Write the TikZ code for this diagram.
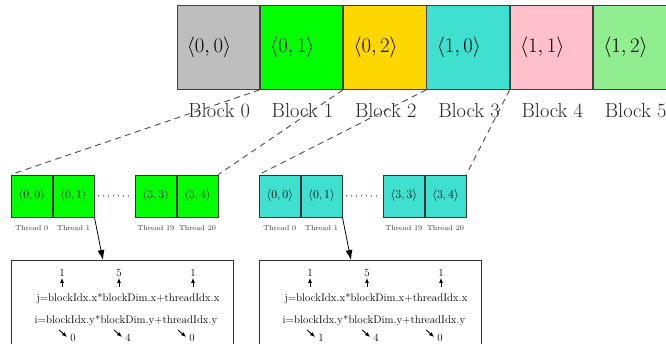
\documentclass[tikz,border=0pt]{standalone}
\usetikzlibrary{arrows.meta,calc}
\definecolor{cgray}{HTML}{BEBEBE}
\definecolor{cgreen}{HTML}{00FF00}
\definecolor{cgold}{HTML}{FFD700}
\definecolor{cturq}{HTML}{40E0D0}
\definecolor{cpink}{HTML}{FFC0CB}
\definecolor{clgreen}{HTML}{90EE90}
\begin{document}
\begin{tikzpicture}[x=1pt,y=-1pt,
  blk/.style={draw=black!75, line width=0.8pt, anchor=north west, text width=62.5pt,
    inner xsep=10pt, inner ysep=0pt, minimum height=84pt, align=left,
    font=\fontsize{20.4}{24}\selectfont},
  blbl/.style={font=\fontsize{20.4}{24}\selectfont, text=black!85, inner sep=0pt},
  thr/.style={draw=black!80, line width=0.7pt, anchor=north west, minimum width=41pt,
    minimum height=42pt, inner sep=0pt, font=\fontsize{11.5}{13}\selectfont},
  tlbl/.style={font=\fontsize{7.2}{8}\selectfont, text=black!80, inner sep=0pt},
  outbox/.style={draw=black!80, line width=0.7pt, anchor=north west, minimum width=222pt,
    minimum height=100pt, inner sep=0pt},
  txt/.style={font=\fontsize{11}{13}\selectfont, inner sep=0pt},
  dsh/.style={draw=black!70, line width=0.9pt, dash pattern=on 6pt off 4.5pt},
  dots/.style={line width=1.2pt, dash pattern=on 0pt off 5pt, line cap=round,
    shorten >=4pt, shorten <=4pt},
  bigarr/.style={line width=0.8pt, -{Latex[length=10pt,width=7pt]}},
  sarr/.style={line width=0.9pt, -{Latex[length=5pt,width=4pt]}}
]
\useasboundingbox (0,0) rectangle (666,343);

% top blocks
\node[blk, fill=cgray]   (b0) at (176.5,5) {$\langle 0,0\rangle$};
\node[blk, fill=cgreen]  (b1) at (b0.north east) {$\langle 0,1\rangle$};
\node[blk, fill=cgold]   (b2) at (b1.north east) {$\langle 0,2\rangle$};
\node[blk, fill=cturq]   (b3) at (b2.north east) {$\langle 1,0\rangle$};
\node[blk, fill=cpink]   (b4) at (b3.north east) {$\langle 1,1\rangle$};
\node[blk, fill=clgreen] (b5) at (b4.north east) {$\langle 1,2\rangle$};
\foreach \i in {0,...,5} {
  \node[blbl] (l\i) at ($(b\i.south)+(1,21)$) {Block \i};
}

% green threads
\node[thr, fill=cgreen] (g0) at (11,174.5) {$\langle 0,0\rangle$};
\node[thr, fill=cgreen] (g1) at (g0.north east) {$\langle 0,1\rangle$};
\node[thr, fill=cgreen] (g2) at (135,174.5) {$\langle 3,3\rangle$};
\node[thr, fill=cgreen] (g3) at (g2.north east) {$\langle 3,4\rangle$};
\draw[dots] (g1.east) -- (g2.west);

% turquoise threads
\node[thr, fill=cturq] (c0) at (259,174.5) {$\langle 0,0\rangle$};
\node[thr, fill=cturq] (c1) at (c0.north east) {$\langle 0,1\rangle$};
\node[thr, fill=cturq] (c2) at (383,174.5) {$\langle 3,3\rangle$};
\node[thr, fill=cturq] (c3) at (c2.north east) {$\langle 3,4\rangle$};
\draw[dots] (c1.east) -- (c2.west);

% thread labels
\node[tlbl] (tg0) at ($(g0.south)+(0,11)$) {Thread 0};
\node[tlbl] (tg1) at ($(g1.south)+(0,11)$) {Thread 1};
\node[tlbl] (tg2) at ($(g2.south)+(0,11)$) {Thread 19};
\node[tlbl] (tg3) at ($(g3.south)+(0,11)$) {Thread 20};
\node[tlbl] (tc0) at ($(c0.south)+(0,11)$) {Thread 0};
\node[tlbl] (tc1) at ($(c1.south)+(0,11)$) {Thread 1};
\node[tlbl] (tc2) at ($(c2.south)+(0,11)$) {Thread 19};
\node[tlbl] (tc3) at ($(c3.south)+(0,11)$) {Thread 20};

% dashed connectors
\draw[dsh] (b1.south west) -- (g0.north west);
\draw[dsh] (b2.south west) -- (g3.north east);
\draw[dsh] (b3.south west) -- (c0.north west);
\draw[dsh] (b4.south west) -- (c3.north east);

% bottom boxes
\node[outbox] (bx1) at (11,260) {};
\node[outbox] (bx2) at (259,260) {};
\coordinate (a1) at ([xshift=92pt]bx1.north west);
\coordinate (a2) at ([xshift=92pt]bx2.north west);
\draw[bigarr] (g1.south east) -- (a1);
\draw[bigarr] (c1.south east) -- (a2);

% box contents
\foreach \bx/\off/\va/\vb/\vc in {1/11/0/4/0, 2/259/1/4/0} {
  \node[txt] (u\bx a) at (\off+51,273) {1};
  \node[txt] (u\bx b) at (\off+108,273) {5};
  \node[txt] (u\bx c) at (\off+182,273) {1};
  \foreach \k in {a,b,c} {
    \draw[sarr] ($(u\bx\k.south)+(0,10)$) -- ($(u\bx\k.south)+(0,1)$);
  }
  \node[txt] (j\bx) at (\off+117,298) {j=blockIdx.x*blockDim.x+threadIdx.x};
  \node[txt] (i\bx) at (\off+115,320) {i=blockIdx.y*blockDim.y+threadIdx.y};
  \node[txt] (d\bx a) at (\off+62,338) {\va};
  \node[txt] (d\bx b) at (\off+117,338) {\vb};
  \node[txt] (d\bx c) at (\off+181,338) {\vc};
  \foreach \k in {a,b,c} {
    \draw[sarr] ($(d\bx\k.west)+(-11,-8)$) -- ($(d\bx\k.west)+(-3,-1)$);
  }
}
\end{tikzpicture}
\end{document}
